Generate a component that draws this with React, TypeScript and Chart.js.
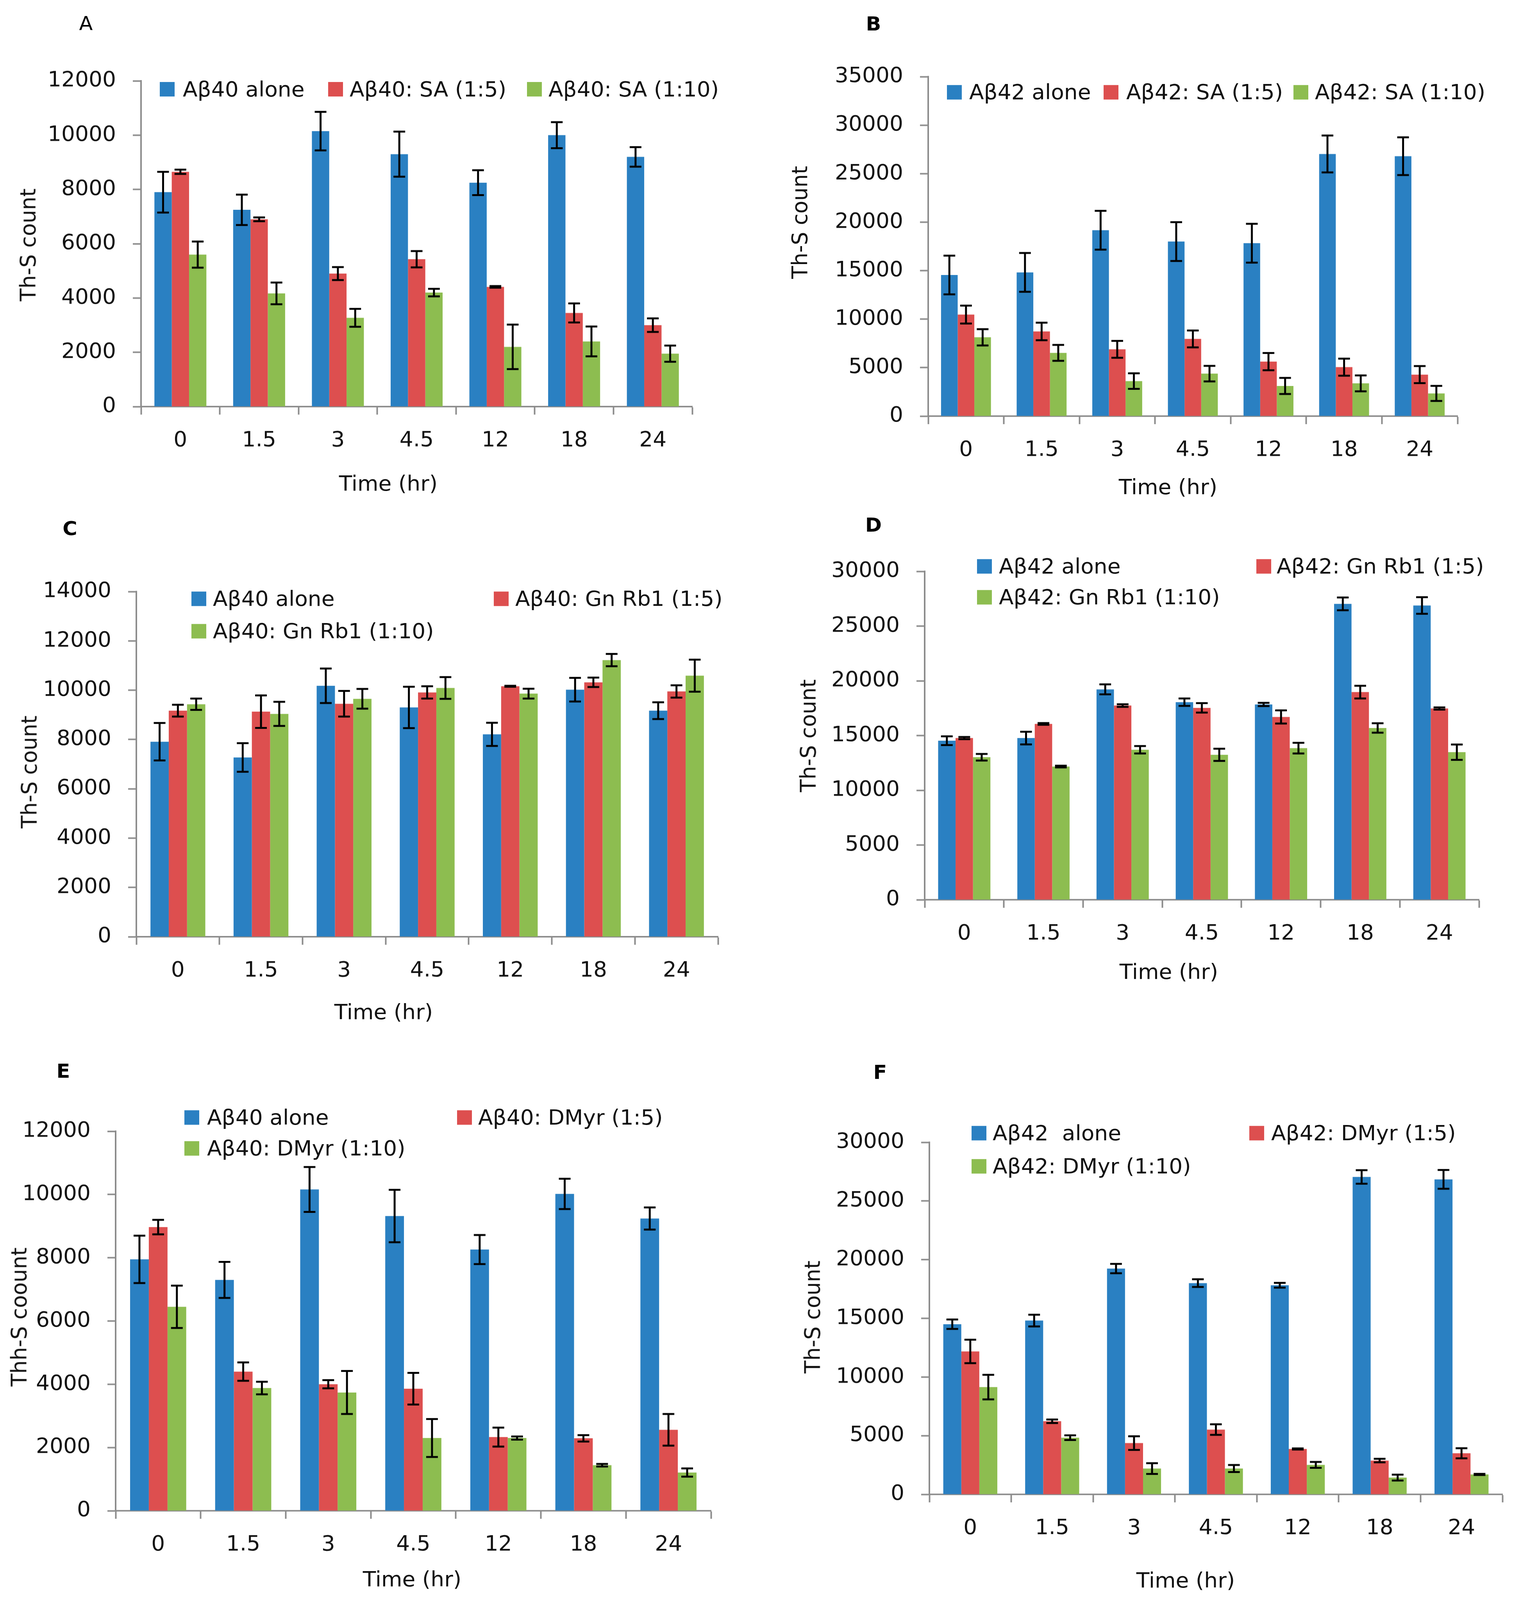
import React, { useEffect, useRef } from "react";
import { Chart, registerables } from "chart.js";

Chart.register(...registerables);

// ---------- data ----------
const timeLabels = ["0", "1.5", "3", "4.5", "12", "18", "24"];

// Panel A
const aAlone = [7900, 7250, 10150, 9300, 8250, 10000, 9200];
const aAloneErr = [750, 560, 710, 830, 460, 480, 360];
const aSA5 = [8650, 6900, 4900, 5430, 4410, 3450, 3000];
const aSA5Err = [80, 70, 240, 300, 30, 350, 250];
const aSA10 = [5600, 4170, 3270, 4200, 2200, 2400, 1950];
const aSA10Err = [480, 400, 330, 140, 820, 550, 300];

// Panel B
const bAlone = [14550, 14820, 19170, 18000, 17830, 27030, 26800];
const bAloneErr = [2000, 2000, 2000, 2000, 2000, 1900, 1950];
const bSA5 = [10470, 8730, 6890, 7960, 5620, 5050, 4280];
const bSA5Err = [920, 900, 870, 870, 890, 880, 880];
const bSA10 = [8130, 6520, 3610, 4380, 3110, 3380, 2340];
const bSA10Err = [840, 820, 800, 800, 830, 820, 780];

// Panel C
const cAlone = [7910, 7270, 10180, 9300, 8210, 10020, 9170];
const cAloneErr = [760, 580, 700, 840, 470, 480, 340];
const cRb5 = [9170, 9130, 9450, 9910, 10160, 10320, 9950];
const cRb5Err = [240, 660, 520, 250, 20, 190, 250];
const cRb10 = [9430, 9040, 9650, 10090, 9860, 11220, 10590];
const cRb10Err = [230, 490, 400, 440, 200, 250, 650];

// Panel D
const dAlone = [14530, 14770, 19220, 18050, 17840, 27030, 26880];
const dAloneErr = [400, 580, 460, 340, 150, 580, 760];
const dRb5 = [14770, 16060, 17740, 17530, 16700, 18970, 17470];
const dRb5Err = [100, 80, 120, 430, 600, 580, 100];
const dRb10 = [13020, 12170, 13700, 13240, 13850, 15690, 13480];
const dRb10Err = [300, 80, 340, 560, 490, 430, 700];

// Panel E
const eAlone = [7950, 7300, 10160, 9320, 8260, 10020, 9240];
const eAloneErr = [750, 570, 710, 830, 460, 480, 350];
const eDM5 = [8970, 4400, 4000, 3860, 2330, 2290, 2560];
const eDM5Err = [230, 290, 130, 500, 300, 100, 500];
const eDM10 = [6450, 3880, 3740, 2300, 2300, 1440, 1210];
const eDM10Err = [670, 200, 680, 600, 50, 40, 130];

// Panel F
const fAlone = [14500, 14810, 19240, 18000, 17820, 27050, 26840];
const fAloneErr = [400, 500, 400, 330, 200, 580, 800];
const fDM5 = [12180, 6230, 4370, 5520, 3870, 2880, 3500];
const fDM5Err = [1000, 150, 580, 450, 50, 150, 430];
const fDM10 = [9140, 4830, 2200, 2200, 2510, 1430, 1700];
const fDM10Err = [1050, 200, 460, 300, 250, 250, 50];

// ---------- style ----------
const PAGE_W = 3873;
const PAGE_H = 4195;
const COLORS = ["#2a80c2", "#dd4f4f", "#8dbd50"];
const AXIS = "#8c8c8c";
const FONT = "'DejaVu Sans', sans-serif";
const FS = 55;
const Y_AXIS_W = 280;
const X_AXIS_H = 160;
const PAD_TOP = 90;
const PAD_R = 30;

type Panel = {
  letter: string;
  bold: boolean;
  letterPos: [number, number];
  axis: { x: number; top: number; bottom: number; right: number };
  yMax: number;
  step: number;
  names: string[];
  values: number[][];
  errors: number[][];
  legend: [number, number, number][];
  yTitle: string;
  yTitlePos: [number, number];
  xTitlePos: [number, number];
};

const panels: Panel[] = [
  {
    letter: "A", bold: false, letterPos: [220, 61],
    axis: { x: 361, top: 212, bottom: 1066, right: 1772 }, yMax: 12000, step: 2000,
    names: ["Aβ40 alone", "Aβ40: SA (1:5)", "Aβ40: SA (1:10)"],
    values: [aAlone, aSA5, aSA10], errors: [aAloneErr, aSA5Err, aSA10Err],
    legend: [[409, 234, 468], [840, 234, 895], [1349, 234, 1404]],
    yTitle: "Th-S count", yTitlePos: [72, 642], xTitlePos: [994, 1268],
  },
  {
    letter: "B", bold: true, letterPos: [2236, 62],
    axis: { x: 2376, top: 201, bottom: 1091, right: 3731 }, yMax: 35000, step: 5000,
    names: ["Aβ42 alone", "Aβ42: SA (1:5)", "Aβ42: SA (1:10)"],
    values: [bAlone, bSA5, bSA10], errors: [bAloneErr, bSA5Err, bSA10Err],
    legend: [[2424, 242, 2481], [2825, 242, 2883], [3311, 242, 3366]],
    yTitle: "Th-S count", yTitlePos: [2047, 583], xTitlePos: [2990, 1277],
  },
  {
    letter: "C", bold: true, letterPos: [179, 1386],
    axis: { x: 349, top: 1551, bottom: 2456, right: 1838 }, yMax: 14000, step: 2000,
    names: ["Aβ40 alone", "Aβ40: Gn Rb1 (1:5)", "Aβ40: Gn Rb1 (1:10)"],
    values: [cAlone, cRb5, cRb10], errors: [cAloneErr, cRb5Err, cRb10Err],
    legend: [[490, 1570, 545], [1264, 1570, 1319], [490, 1655, 545]],
    yTitle: "Th-S count", yTitlePos: [75, 2024], xTitlePos: [982, 2654],
  },
  {
    letter: "D", bold: true, letterPos: [2236, 1376],
    axis: { x: 2367, top: 1498, bottom: 2359, right: 3786 }, yMax: 30000, step: 5000,
    names: ["Aβ42 alone", "Aβ42: Gn Rb1 (1:5)", "Aβ42: Gn Rb1 (1:10)"],
    values: [dAlone, dRb5, dRb10], errors: [dAloneErr, dRb5Err, dRb10Err],
    legend: [[2501, 1485, 2557], [3216, 1485, 3268], [2501, 1566, 2557]],
    yTitle: "Th-S count", yTitlePos: [2069, 1929], xTitlePos: [2992, 2548],
  },
  {
    letter: "E", bold: true, letterPos: [162, 2808],
    axis: { x: 296, top: 2966, bottom: 3961, right: 1820 }, yMax: 12000, step: 2000,
    names: ["Aβ40 alone", "Aβ40: DMyr (1:5)", "Aβ40: DMyr (1:10)"],
    values: [eAlone, eDM5, eDM10], errors: [eAloneErr, eDM5Err, eDM10Err],
    legend: [[472, 2930, 530], [1170, 2930, 1224], [472, 3011, 530]],
    yTitle: "Thh-S coount", yTitlePos: [49, 3453], xTitlePos: [1055, 4141],
  },
  {
    letter: "F", bold: true, letterPos: [2253, 2811],
    axis: { x: 2379, top: 2995, bottom: 3918, right: 3846 }, yMax: 30000, step: 5000,
    names: ["Aβ42  alone", "Aβ42: DMyr (1:5)", "Aβ42: DMyr (1:10)"],
    values: [fAlone, fDM5, fDM10], errors: [fAloneErr, fDM5Err, fDM10Err],
    legend: [[2487, 2971, 2541], [3198, 2971, 3254], [2487, 3058, 2541]],
    yTitle: "Th-S count", yTitlePos: [2080, 3453], xTitlePos: [3035, 4144],
  },
];

// ---------- error bar plugin ----------
const errorBarPlugin = {
  id: "errorBars",
  afterDatasetsDraw(chart: any, _args: any, opts: any) {
    const errs: number[][] = opts.errors || [];
    const ctx = chart.ctx;
    const ys = chart.scales.y;
    ctx.save();
    ctx.strokeStyle = "#000";
    ctx.lineWidth = 5;
    ctx.lineCap = "butt";
    chart.data.datasets.forEach((ds: any, i: number) => {
      const meta = chart.getDatasetMeta(i);
      meta.data.forEach((bar: any, j: number) => {
        const v = ds.data[j];
        const e = (errs[i] || [])[j] || 0;
        const x = bar.x;
        const yt = ys.getPixelForValue(v + e);
        const yb = ys.getPixelForValue(v - e);
        const hw = 15;
        ctx.beginPath();
        ctx.moveTo(x, yt);
        ctx.lineTo(x, yb);
        ctx.moveTo(x - hw, yt);
        ctx.lineTo(x + hw, yt);
        ctx.moveTo(x - hw, yb);
        ctx.lineTo(x + hw, yb);
        ctx.stroke();
      });
    });
    ctx.restore();
  },
};

function ChartPanel({ p }: { p: Panel }) {
  const ref = useRef<HTMLCanvasElement>(null);
  const left = p.axis.x - Y_AXIS_W;
  const top = p.axis.top - PAD_TOP;
  const width = p.axis.right - p.axis.x + Y_AXIS_W + PAD_R;
  const height = p.axis.bottom - p.axis.top + PAD_TOP + X_AXIS_H;

  useEffect(() => {
    if (!ref.current) return;
    const chart = new Chart(ref.current, {
      type: "bar",
      data: {
        labels: timeLabels,
        datasets: p.values.map((vals, i) => ({
          label: p.names[i],
          data: vals,
          backgroundColor: COLORS[i],
          borderWidth: 0,
          categoryPercentage: 0.66,
          barPercentage: 1.0,
        })),
      },
      options: {
        responsive: false,
        animation: false,
        devicePixelRatio: 1,
        layout: { padding: { top: PAD_TOP, right: PAD_R, left: 0, bottom: 0 } },
        plugins: {
          legend: { display: false },
          tooltip: { enabled: false },
          title: { display: false },
          errorBars: { errors: p.errors },
        } as any,
        scales: {
          x: {
            grid: {
              display: true,
              drawOnChartArea: false,
              drawTicks: true,
              tickLength: 21,
              tickWidth: 4,
              tickColor: AXIS,
              offset: true,
            },
            border: { display: true, color: AXIS, width: 4 },
            ticks: { color: "#111", font: { family: FONT, size: FS }, padding: 36, maxRotation: 0, autoSkip: false },
            afterFit: (s: any) => {
              s.height = X_AXIS_H;
            },
          },
          y: {
            min: 0,
            max: p.yMax,
            grid: {
              display: true,
              drawOnChartArea: false,
              drawTicks: true,
              tickLength: 21,
              tickWidth: 4,
              tickColor: AXIS,
            },
            border: { display: true, color: AXIS, width: 4 },
            ticks: {
              stepSize: p.step,
              color: "#111",
              font: { family: FONT, size: FS },
              padding: 43,
              callback: (v: any) => String(v),
            },
            afterFit: (s: any) => {
              s.width = Y_AXIS_W;
            },
          },
        },
      } as any,
      plugins: [errorBarPlugin],
    });
    return () => chart.destroy();
  }, []);

  const textBase: React.CSSProperties = {
    position: "absolute",
    fontFamily: FONT,
    fontSize: FS,
    lineHeight: 1,
    color: "#111",
    whiteSpace: "pre",
  };

  return (
    <>
      <canvas
        ref={ref}
        width={width}
        height={height}
        style={{ position: "absolute", left, top, width, height }}
      />
      <div
        style={{
          ...textBase,
          left: p.letterPos[0],
          top: p.letterPos[1],
          fontSize: 51,
          fontWeight: p.bold ? "bold" : "normal",
          color: "#000",
          transform: "translate(-50%, -50%)",
        }}
      >
        {p.letter}
      </div>
      <div
        style={{
          ...textBase,
          left: p.yTitlePos[0],
          top: p.yTitlePos[1],
          transform: "translate(-50%, -50%) rotate(-90deg)",
        }}
      >
        {p.yTitle}
      </div>
      <div
        style={{
          ...textBase,
          left: p.xTitlePos[0],
          top: p.xTitlePos[1],
          transform: "translate(-50%, -50%)",
        }}
      >
        Time (hr)
      </div>
      {p.legend.map(([sx, cy, tx], i) => (
        <React.Fragment key={i}>
          <div
            style={{
              position: "absolute",
              left: sx,
              top: cy - 19,
              width: 38,
              height: 38,
              background: COLORS[i],
            }}
          />
          <div style={{ ...textBase, left: tx, top: cy, transform: "translateY(-50%)" }}>
            {p.names[i]}
          </div>
        </React.Fragment>
      ))}
    </>
  );
}

export default function App() {
  const vw = typeof window !== "undefined" && window.innerWidth ? window.innerWidth : PAGE_W;
  const vh = typeof window !== "undefined" && window.innerHeight ? window.innerHeight : PAGE_H;
  const sx = Math.min(1, vw / PAGE_W);
  const sy = Math.min(1, vh / PAGE_H);
  return (
    <div
      style={{
        position: "absolute",
        left: 0,
        top: 0,
        width: PAGE_W * sx,
        height: PAGE_H * sy,
        background: "#fff",
        overflow: "hidden",
      }}
    >
      <div
        style={{
          position: "absolute",
          left: 0,
          top: 0,
          width: PAGE_W,
          height: PAGE_H,
          transform: `scale(${sx}, ${sy})`,
          transformOrigin: "0 0",
        }}
      >
        {panels.map((p) => (
          <ChartPanel key={p.letter} p={p} />
        ))}
      </div>
    </div>
  );
}
